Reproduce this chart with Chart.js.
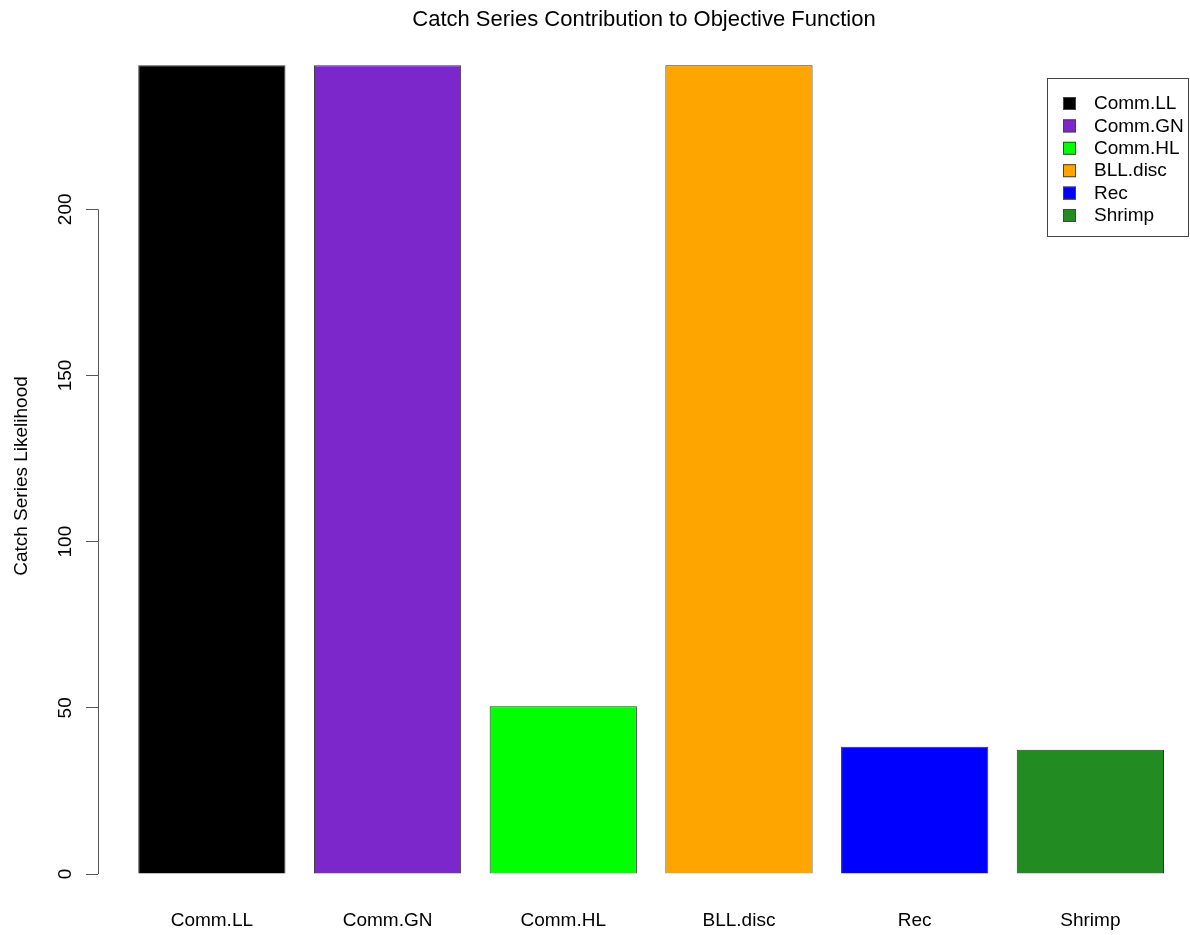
<!DOCTYPE html>
<html>
<head>
<meta charset="utf-8">
<script src="https://cdn.jsdelivr.net/npm/chart.js@4/dist/chart.umd.min.js"></script>
<style>
  html, body { margin: 0; padding: 0; background: #fff; overflow: hidden; }
  #wrap { width: 1190px; height: 935px; }
</style>
</head>
<body>
<div id="wrap"><canvas id="canvas1"></canvas></div>
<script>
// Data
const categories = ["Comm.LL", "Comm.GN", "Comm.HL", "BLL.disc", "Rec", "Shrimp"];
const likelihood = [243.3, 243.3, 50.5, 243.3, 38.3, 37.4];
const barColors = ["#000000", "#7B27CC", "#00FF00", "#FFA500", "#0000FF", "#228B22"];
const yTicks = [0, 50, 100, 150, 200];

const font = "'Liberation Sans', Arial, sans-serif";

// legend box drawn like R's legend()
const boxLegend = {
    id: "boxLegend",
    afterDraw(chart) {
        const c = chart.ctx;
        const left = 1047, top = 78, w = 141, h = 158;
        c.save();
        c.strokeStyle = "#444";
        c.lineWidth = 1;
        c.strokeRect(left + 0.5, top + 0.5, w, h);
        c.font = "19px " + font;
        c.textBaseline = "middle";
        c.textAlign = "left";
        categories.forEach((name, i) => {
            const y = top + 25 + i * 22.4;
            c.fillStyle = barColors[i];
            c.fillRect(left + 16, y - 6, 13, 13);
            c.strokeStyle = "#444";
            c.strokeRect(left + 16.5, y - 5.5, 12, 12);
            c.fillStyle = "#000";
            c.fillText(name, left + 47, y + 1);
        });
        c.restore();
    }
};

// y axis line only from first to last tick
const yAxisLine = {
    id: "yAxisLine",
    afterDraw(chart) {
        const s = chart.scales.y;
        const c = chart.ctx;
        c.save();
        c.strokeStyle = "#555";
        c.lineWidth = 1;
        c.beginPath();
        c.moveTo(s.right + 0.5, s.getPixelForValue(yTicks[0]));
        c.lineTo(s.right + 0.5, s.getPixelForValue(yTicks[yTicks.length - 1]));
        c.stroke();
        c.restore();
    }
};

let myChart1 = document.querySelector("#canvas1").getContext("2d");

let barChart = new Chart(myChart1, {
    type: "bar",
    data: {
        datasets: [{
            label: "Catch Series Likelihood",
            data: likelihood.map((v, i) => ({ x: i, y: v })),
            backgroundColor: barColors,
            borderColor: "#333",
            borderWidth: 1,
            categoryPercentage: 1,
            barPercentage: 0.838,
            clip: false
        }]
    },
    options: {
        responsive: true,
        maintainAspectRatio: false,
        animation: false,
        layout: { padding: { left: 10, right: 0, top: 0, bottom: 0 } },
        plugins: {
            legend: { display: false },
            tooltip: { enabled: false },
            title: {
                display: true,
                fullSize: false,
                text: "Catch Series Contribution to Objective Function",
                color: "#000",
                font: { family: font, size: 22, weight: "normal" },
                padding: { top: 7, bottom: 44.6 }
            }
        },
        scales: {
            x: {
                type: "linear",
                offset: false,
                min: -0.648,
                max: 5.567,
                grid: { display: false },
                border: { display: false },
                afterBuildTicks: (s) => { s.ticks = categories.map((c, i) => ({ value: i })); },
                afterFit: (s) => { s.height = 61; },
                ticks: {
                    autoSkip: false,
                    maxRotation: 0,
                    color: "#000",
                    padding: 27,
                    font: { family: font, size: 19 },
                    callback: (v) => categories[v]
                }
            },
            y: {
                min: 0,
                max: 239.5,
                afterBuildTicks: (s) => { s.ticks = yTicks.map(v => ({ value: v })); },
                afterFit: (s) => { s.width = 88; },
                grid: { drawOnChartArea: false, drawTicks: true, tickLength: 12, color: "#555" },
                border: { display: false },
                ticks: {
                    color: "#000",
                    minRotation: 90,
                    maxRotation: 90,
                    crossAlign: "center",
                    padding: 4,
                    font: { family: font, size: 19 }
                },
                title: {
                    display: true,
                    text: "Catch Series Likelihood",
                    color: "#000",
                    font: { family: font, size: 19 },
                    padding: 0
                }
            }
        }
    },
    plugins: [boxLegend, yAxisLine]
});
</script>
</body>
</html>
